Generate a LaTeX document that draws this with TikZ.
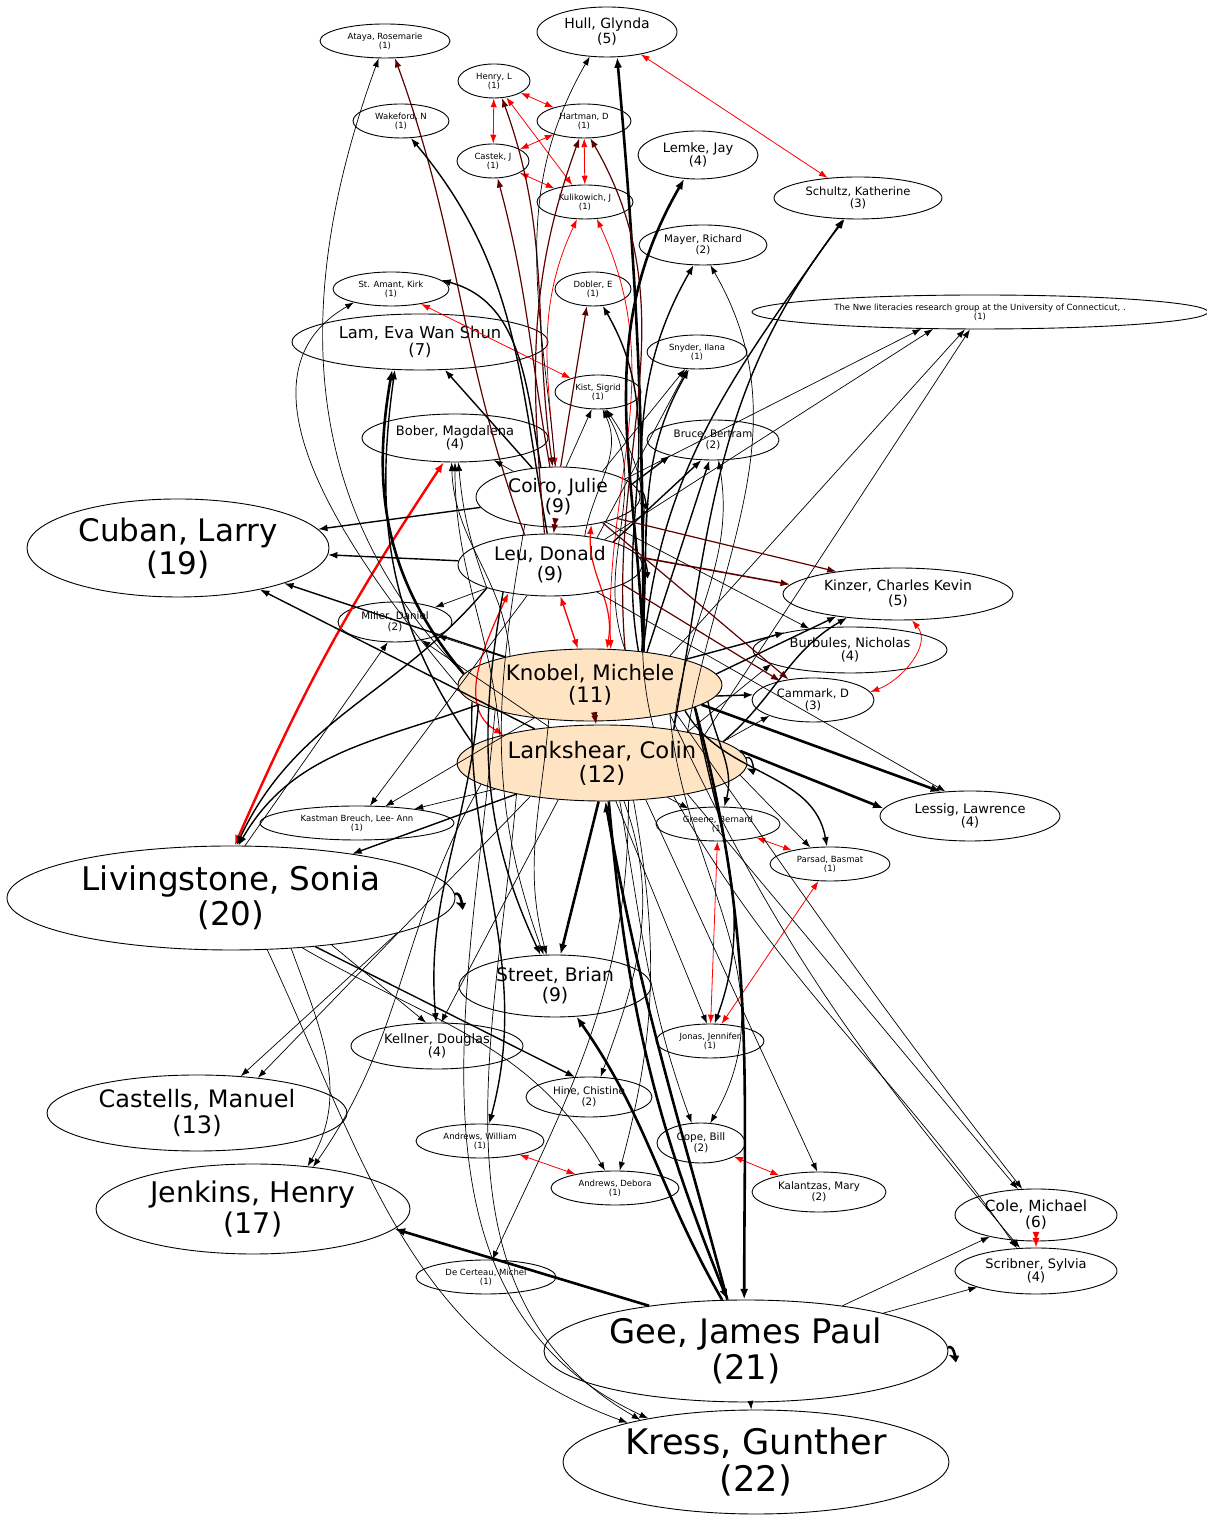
\documentclass[tikz,border=0pt]{standalone}
\usepackage{fontspec}
\setmainfont{DejaVu Sans}
\usetikzlibrary{shapes.geometric,arrows.meta}
\definecolor{bisque}{HTML}{FFE4C4}
\definecolor{darkred}{HTML}{5C0000}
\tikzset{
  authnode/.style = {ellipse, draw=black, line width=0.9pt, align=center,
    inner sep=0pt, text centered,
    font=\fontsize{#1}{1.06\dimexpr#1pt\relax}\selectfont},
  auth_p/.style = {authnode=#1},% cited author
  auth_k/.style = {authnode=#1, fill=bisque},% corpus author
  cit_f/.style = {->, line width=0.7pt},% citation, thin
  cit_m/.style = {->, line width=1.4pt},% citation, medium
  cit_g/.style = {->, line width=2.6pt},% citation, heavy
  cit_dr/.style = {->, darkred, line width=1.2pt},% citation and co-author
  co_r/.style = {<->, red, line width=0.8pt},% co-authors
}

\begin{document}
\begin{tikzpicture}[x=1pt, y=1pt, >={Latex[length=8pt 1, width=5.5pt 1]}]
\useasboundingbox (0,0) rectangle (1207,1515);

% authors
\node[auth_p=8.5, minimum width=130, minimum height=34] (ataya) at (385,1474) {Ataya, Rosemarie\\(1)};
\node[auth_p=14, minimum width=140, minimum height=50] (hull) at (607,1483) {Hull, Glynda\\(5)};
\node[auth_p=8.5, minimum width=72, minimum height=34] (henry) at (494,1434) {Henry, L\\(1)};
\node[auth_p=8.5, minimum width=96, minimum height=34] (wakeford) at (401,1394) {Wakeford, N\\(1)};
\node[auth_p=8.5, minimum width=94, minimum height=34] (hartman) at (584,1394) {Hartman, D\\(1)};
\node[auth_p=8.5, minimum width=72, minimum height=34] (castek) at (493,1354) {Castek, J\\(1)};
\node[auth_p=13, minimum width=120, minimum height=48] (lemke) at (698,1360) {Lemke, Jay\\(4)};
\node[auth_p=8.5, minimum width=96, minimum height=34] (kulik) at (585,1313) {Kulikowich, J\\(1)};
\node[auth_p=11.5, minimum width=168, minimum height=42] (schultz) at (858,1317) {Schultz, Katherine\\(3)};
\node[auth_p=10.3, minimum width=128, minimum height=40] (mayer) at (703,1270) {Mayer, Richard\\(2)};
\node[auth_p=8.5, minimum width=116, minimum height=34] (stamant) at (391,1226) {St. Amant, Kirk\\(1)};
\node[auth_p=8.5, minimum width=76, minimum height=34] (dobler) at (593,1226) {Dobler, E\\(1)};
\node[auth_p=8.5, minimum width=456, minimum height=34] (nwe) at (980,1203) {The Nwe literacies research group at the University of Connecticut, .\\(1)};
\node[auth_p=16.3, minimum width=256, minimum height=56] (lam) at (420,1173) {Lam, Eva Wan Shun\\(7)};
\node[auth_p=8.5, minimum width=100, minimum height=34] (snyder) at (697,1163) {Snyder, Ilana\\(1)};
\node[auth_p=8.5, minimum width=86, minimum height=34] (kist) at (598,1123) {Kist, Sigrid\\(1)};
\node[auth_p=13, minimum width=186, minimum height=48] (bober) at (455,1077) {Bober, Magdalena\\(4)};
\node[auth_p=10.3, minimum width=132, minimum height=40] (bruce) at (713,1075) {Bruce, Bertram\\(2)};
\node[auth_p=18.7, minimum width=164, minimum height=60] (coiro) at (558,1018) {Coiro, Julie\\(9)};
\node[auth_p=31, minimum width=302, minimum height=98] (cuban) at (178,967) {Cuban, Larry\\(19)};
\node[auth_p=18.7, minimum width=184, minimum height=62] (leu) at (550,950) {Leu, Donald\\(9)};
\node[auth_p=14, minimum width=230, minimum height=52] (kinzer) at (898,921) {Kinzer, Charles Kevin\\(5)};
\node[auth_p=10.3, minimum width=114, minimum height=40] (miller) at (395,893) {Miller, Daniel\\(2)};
\node[auth_p=13, minimum width=194, minimum height=46] (burbules) at (850,865) {Burbules, Nicholas\\(4)};
\node[auth_k=21.3, minimum width=264, minimum height=72] (knobel) at (590,830) {Knobel, Michele\\(11)};
\node[auth_p=11.5, minimum width=122, minimum height=44] (cammark) at (813,815) {Cammark, D\\(3)};
\node[auth_k=22.7, minimum width=290, minimum height=76] (lankshear) at (602,752) {Lankshear, Colin\\(12)};
\node[auth_p=8.5, minimum width=194, minimum height=34] (kastman) at (357,692) {Kastman Breuch, Lee- Ann\\(1)};
\node[auth_p=8.5, minimum width=124, minimum height=34] (greene) at (718,691) {Greene, Bernard\\(1)};
\node[auth_p=13, minimum width=180, minimum height=50] (lessig) at (970,699) {Lessig, Lawrence\\(4)};
\node[auth_p=8.5, minimum width=120, minimum height=34] (parsad) at (830,651) {Parsad, Basmat\\(1)};
\node[auth_p=32.6, minimum width=448, minimum height=104] (living) at (231,617) {Livingstone, Sonia\\(20)};
\node[auth_p=18.7, minimum width=192, minimum height=62] (street) at (555,529) {Street, Brian\\(9)};
\node[auth_p=13, minimum width=172, minimum height=46] (kellner) at (437,469) {Kellner, Douglas\\(4)};
\node[auth_p=8.5, minimum width=108, minimum height=34] (jonas) at (710,474) {Jonas, Jennifer\\(1)};
\node[auth_p=24, minimum width=300, minimum height=76] (castells) at (197,402) {Castells, Manuel\\(13)};
\node[auth_p=10.3, minimum width=126, minimum height=40] (hine) at (589,418) {Hine, Chistine\\(2)};
\node[auth_p=8.5, minimum width=128, minimum height=34] (andrewsw) at (480,374) {Andrews, William\\(1)};
\node[auth_p=10.3, minimum width=88, minimum height=40] (cope) at (701,372) {Cope, Bill\\(2)};
\node[auth_p=8.5, minimum width=128, minimum height=34] (andrewsd) at (615,327) {Andrews, Debora\\(1)};
\node[auth_p=10.3, minimum width=134, minimum height=40] (kalantzas) at (819,323) {Kalantzas, Mary\\(2)};
\node[auth_p=15.3, minimum width=162, minimum height=52] (cole) at (1036,300) {Cole, Michael\\(6)};
\node[auth_p=28.5, minimum width=314, minimum height=90] (jenkins) at (253,306) {Jenkins, Henry\\(17)};
\node[auth_p=13, minimum width=162, minimum height=46] (scribner) at (1036,244) {Scribner, Sylvia\\(4)};
\node[auth_p=8.5, minimum width=140, minimum height=34] (decerteau) at (486,238) {De Certeau, Michel\\(1)};
\node[auth_p=33.8, minimum width=404, minimum height=102] (gee) at (746,164) {Gee, James Paul\\(21)};
\node[auth_p=35.2, minimum width=386, minimum height=104] (kress) at (756,53) {Kress, Gunther\\(22)};

% co-authors
\draw[co_r] (henry) -- (castek);
\draw[co_r] (henry) -- (hartman);
\draw[co_r] (henry) -- (kulik);
\draw[co_r] (castek) -- (hartman);
\draw[co_r] (castek) -- (kulik);
\draw[co_r] (hartman) -- (kulik);
\draw[co_r] (hull) -- (schultz);
\draw[co_r] (stamant) -- (kist);
\draw[co_r] (greene) -- (parsad);
\draw[co_r] (greene) -- (jonas);
\draw[co_r] (parsad) -- (jonas);
\draw[co_r] (andrewsw) -- (andrewsd);
\draw[co_r] (cope) -- (kalantzas);
\draw[co_r] (kinzer.-62) to[out=-50,in=20] (cammark.8);
\draw[co_r, line width=1.6pt] (cole) -- (scribner);
\draw[co_r, line width=2.4pt] (living.86) to[bend left=5] (bober.245);
\draw[co_r, line width=1.4pt] (leu) -- (knobel);
\draw[co_r, line width=1.2pt] (leu.214) to[out=-115,in=150] (lankshear.164);
\draw[co_r] (coiro.95) to[out=95,in=-115] (kulik.245);
\draw[co_r, line width=1.2pt] (coiro.-40) to[out=-95,in=80] (knobel.65);
\draw[co_r] (knobel.60) to[out=92,in=-65] (kulik.305);
\draw[cit_dr, <->] (coiro) -- (leu);
\draw[cit_dr, <->] (knobel) -- (lankshear);
\draw[cit_dr, <->] (coiro.100) to[out=98,in=-70] (henry.-65);

% top of the graph
\draw[cit_f] (knobel.175) to[out=135,in=-110] (ataya.250);
\draw[cit_dr] (leu.130) to[out=110,in=-70] (ataya.300);
\draw[cit_m] (leu.95) to[out=100,in=-50] (wakeford.-60);
\draw[cit_f] (coiro.95) to[out=95,in=-120] (hull.235);
\draw[cit_g] (knobel.32) to[out=90,in=-85] (hull.292);
\draw[cit_dr] (coiro.105) to[out=100,in=-75] (castek.-75);
\draw[cit_dr] (leu.100) to[out=95,in=-110] (hartman.255);
\draw[cit_dr] (knobel.45) to[out=95,in=-60] (hartman.290);
\draw[cit_g] (knobel.32) to[out=92,in=-120] (lemke.240);
\draw[cit_m] (knobel.32) to[out=85,in=-125] (schultz.235);
\draw[cit_m] (lankshear.25) to[out=80,in=-128] (schultz.238);
\draw[cit_m] (knobel.32) to[out=88,in=-120] (mayer.245);
\draw[cit_f] (lankshear.20) to[out=80,in=-60] (mayer.290);
\draw[cit_m] (coiro.120) to[out=100,in=-15] (stamant.10);
\draw[cit_f] (knobel.180) to[out=130,in=-150] (stamant.200);
\draw[cit_dr] (coiro.85) -- (dobler.250);
\draw[cit_m] (knobel.35) to[out=100,in=-60] (dobler.300);
\draw[cit_g] (knobel.175) to[out=130,in=-100] (lam.225);
\draw[cit_m] (lankshear.172) to[out=125,in=-98] (lam.228);
\draw[cit_m] (coiro) -- (lam);
\draw[cit_f] (coiro.30) -- (snyder.235);
\draw[cit_f] (leu.30) -- (snyder.240);
\draw[cit_m] (knobel.33) to[out=85,in=-120] (snyder.245);
\draw[cit_f] (coiro.75) -- (kist.250);
\draw[cit_f] (knobel.45) to[out=110,in=-60] (kist.290);
\draw[cit_f] (lankshear.35) to[out=105,in=-55] (kist.295);
\draw[cit_f] (leu.40) to[out=80,in=-65] (kist.285);
\draw[cit_f] (coiro.15) -- (nwe.196);
\draw[cit_f] (leu.25) -- (nwe.200);
\draw[cit_f] (knobel.20) -- (nwe.229);
\draw[cit_f] (lankshear.15) -- (nwe.240);

% middle of the graph
\draw[cit_f] (coiro) -- (bober);
\draw[cit_f] (knobel.160) to[out=95,in=-88] (bober.262);
\draw[cit_f] (lankshear.165) to[out=95,in=-90] (bober.270);
\draw[cit_f] (leu.200) to[out=110,in=-85] (bober.278);
\draw[cit_m] (coiro.10) -- (bruce.200);
\draw[cit_m] (leu.20) -- (bruce.240);
\draw[cit_m] (knobel.30) -- (bruce.260);
\draw[cit_f] (lankshear.25) to[out=85,in=-80] (bruce.285);
\draw[cit_m] (coiro) -- (cuban);
\draw[cit_m] (leu) -- (cuban);
\draw[cit_m] (knobel) -- (cuban);
\draw[cit_m] (lankshear) -- (cuban);
\draw[cit_dr] (coiro.-20) -- (kinzer.160);
\draw[cit_dr, line width=1.6pt] (leu.5) -- (kinzer.175);
\draw[cit_m] (knobel.5) -- (kinzer.200);
\draw[cit_m] (lankshear.10) to[out=40,in=-150] (kinzer.205);
\draw[cit_m] (knobel.15) -- (burbules.165);
\draw[cit_f] (lankshear.20) -- (burbules.190);
\draw[cit_f] (coiro) -- (burbules);
\draw[cit_dr] (leu.-15) -- (cammark.150);
\draw[cit_dr] (coiro.-30) -- (cammark.140);
\draw[cit_m] (knobel.-5) -- (cammark.175);
\draw[cit_f] (lankshear.10) -- (cammark.200);
\draw[cit_f] (leu) -- (miller);
\draw[cit_f] (knobel) -- (miller);
\draw[cit_f] (lankshear) -- (miller);
\draw[cit_f] (living.75) -- (miller.250);
\draw[cit_f] (knobel) -- (kastman);
\draw[cit_f] (lankshear) -- (kastman);
\draw[cit_f] (leu) -- (kastman);
\draw[cit_m] (lankshear) -- (living);
\draw[cit_m] (knobel.190) to[out=-160,in=60] (living.82);
\draw[cit_m] (leu.200) to[out=-130,in=65] (living.84);
\draw[cit_f] (lankshear) -- (greene);
\draw[cit_m] (knobel.-8) to[out=-80,in=75] (greene.70);
\draw[cit_f] (lankshear.-5) -- (parsad.140);
\draw[cit_m] (knobel.-15) to[out=-60,in=100] (parsad.100);
\draw[cit_g] (lankshear.5) -- (lessig.175);
\draw[cit_g] (knobel.-10) -- (lessig.140);
\draw[cit_f] (leu.-30) -- (lessig.135);

% bottom of the graph
\draw[cit_m] (leu.210) to[out=-100,in=115] (street.115);
\draw[cit_f] (coiro.220) to[out=-100,in=110] (street.110);
\draw[cit_f] (knobel.220) to[out=-95,in=105] (street.105);
\draw[cit_g] (lankshear.265) -- (street.80);
\draw[cit_g] (gee.115) to[out=120,in=-55] (street.-55);
\draw[cit_g] (gee.110) to[out=105,in=-80] (lankshear.-85);
\draw[cit_g] (lankshear.-80) to[out=-85,in=112] (gee.110);
\draw[cit_g] (knobel.-12) to[out=-75,in=90] (gee.92);
\draw[cit_f] (living.-25) -- (kellner.115);
\draw[cit_m] (knobel.190) to[out=-95,in=95] (kellner.92);
\draw[cit_f] (lankshear.220) -- (kellner.80);
\draw[cit_f] (living.-12) -- (castells.40);
\draw[cit_f] (lankshear.205) -- (castells.30);
\draw[cit_f] (living.-40) to[out=-70,in=60] (jenkins.38);
\draw[cit_f] (lankshear.190) to[out=-120,in=55] (jenkins.35);
\draw[cit_g] (gee.155) -- (jenkins.-8);
\draw[cit_m] (living.-30) -- (hine.125);
\draw[cit_f] (lankshear.-60) to[out=-70,in=70] (hine.60);
\draw[cit_m] (knobel.188) to[out=-92,in=75] (andrewsw.62);
\draw[cit_f] (living.-35) to[out=-30,in=120] (andrewsd.120);
\draw[cit_f] (lankshear.-50) to[out=-80,in=75] (andrewsd.75);
\draw[cit_f] (lankshear.-55) to[out=-90,in=65] (decerteau.70);
\draw[cit_f] (lankshear.-65) to[out=-80,in=110] (cope.115);
\draw[cit_f] (knobel.-20) to[out=-85,in=60] (cope.65);
\draw[cit_f] (lankshear.-40) -- (kalantzas.95);
\draw[cit_f] (lankshear.-70) -- (jonas.100);
\draw[cit_m] (knobel.-12) to[out=-80,in=70] (jonas.75);
\draw[cit_f] (lankshear.-20) to[out=-50,in=130] (cole.125);
\draw[cit_f] (knobel.-18) to[out=-55,in=128] (cole.118);
\draw[cit_f] (lankshear.-25) to[out=-60,in=125] (scribner.130);
\draw[cit_f] (knobel.-20) to[out=-65,in=130] (scribner.125);
\draw[cit_f] (gee) -- (cole);
\draw[cit_f] (gee) -- (scribner);
\draw[cit_f] (gee) -- (kress);
\draw[cit_f] (living.-55) to[out=-65,in=160] (kress.163);
\draw[cit_f] (lankshear.200) to[out=-95,in=150] (kress.160);
\draw[cit_f] (knobel.195) to[out=-95,in=155] (kress.158);

% self citations
\draw[cit_m] (coiro.4) to[out=25,in=-25,min distance=7pt] (coiro.-4);
\draw[cit_m] (leu.4) to[out=25,in=-25,min distance=7pt] (leu.-4);
\draw[cit_m] (lankshear.2) to[out=25,in=-25,min distance=8pt] (lankshear.-2);
\draw[cit_g] (living.1) to[out=25,in=-25,min distance=7pt] (living.-1);
\draw[cit_g] (gee.1) to[out=25,in=-25,min distance=7pt] (gee.-1);
\end{tikzpicture}
\end{document}
